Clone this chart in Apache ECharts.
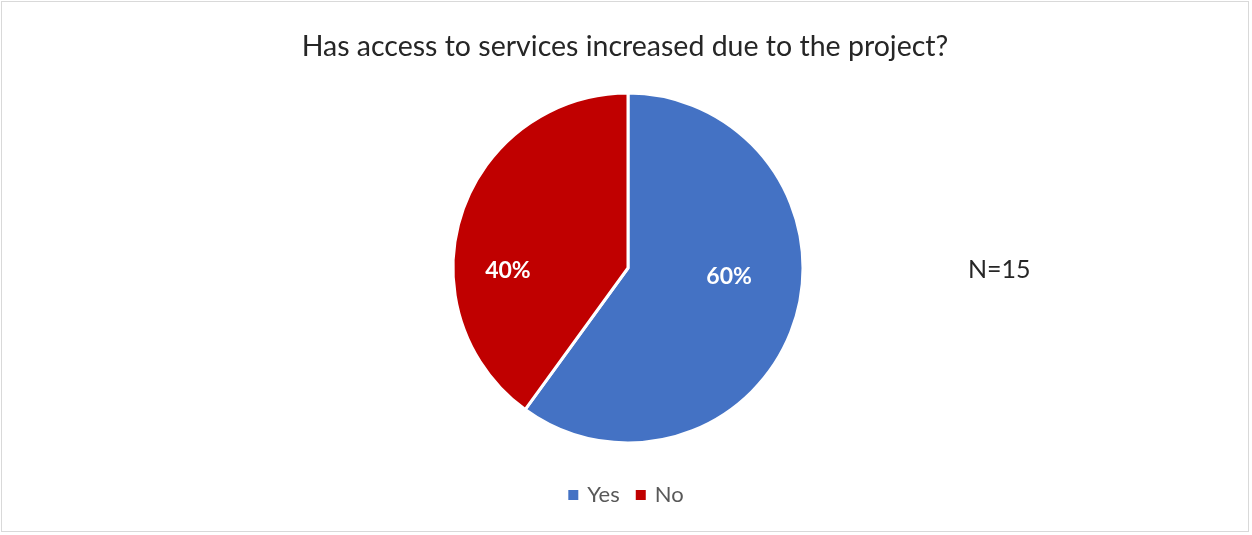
<!DOCTYPE html>
<html>
<head>
<meta charset="utf-8">
<script src="https://cdn.jsdelivr.net/npm/echarts@6/dist/echarts.min.js"></script>
<style>
  html, body { margin: 0; padding: 0; background: #ffffff; }
  #chart { position: absolute; left: 1px; top: 1px; width: 1248px; height: 531px;
           border: 1px solid #d9d9d9; box-sizing: border-box; background: #ffffff; }
</style>
</head>
<body>
<div id="chart"></div>
<script>
// Survey answers and their shares (percent of respondents)
const categories = ['Yes', 'No'];
const shares = [60, 40];
const sampleNote = 'N=15';
const titleText = 'Has access to services increased due to the project?';

const sliceColors = ['#4472C4', '#C00000'];
// nudge of each percentage label from the slice's inner anchor
const labelNudge = [[15, -19], [-34, 31]];

const chart = echarts.init(document.getElementById('chart'));
const FONT = 'Lato, "Open Sans", sans-serif';

chart.setOption({
  animation: false,
  title: {
    text: titleText,
    left: 'center',
    top: 25,
    textStyle: { fontFamily: FONT, fontWeight: 'normal', fontSize: 28.5, color: '#262626' }
  },
  legend: {
    data: categories,
    bottom: 20,
    left: 'center',
    icon: 'rect',
    itemWidth: 12,
    itemHeight: 12,
    itemGap: 14,
    textStyle: { fontFamily: FONT, fontSize: 22, color: '#595959', padding: [0, 0, 0, 3] }
  },
  graphic: [{
    type: 'text',
    left: 966,
    top: 255,
    style: { text: sampleNote, fontFamily: FONT, fontSize: 25, fill: '#262626' }
  }],
  series: [{
    type: 'pie',
    center: [626, 266],
    radius: [0, 175],
    startAngle: 90,
    clockwise: true,
    label: {
      show: true,
      position: 'inside',
      formatter: '{c}%',
      fontFamily: FONT,
      fontWeight: 'bold',
      fontSize: 23,
      color: '#ffffff'
    },
    labelLine: { show: false },
    itemStyle: { borderColor: '#ffffff', borderWidth: 3 },
    emphasis: { disabled: true },
    data: categories.map((name, i) => ({
      name,
      value: shares[i],
      itemStyle: { color: sliceColors[i] },
      label: { offset: labelNudge[i] }
    }))
  }]
});
</script>
</body>
</html>
